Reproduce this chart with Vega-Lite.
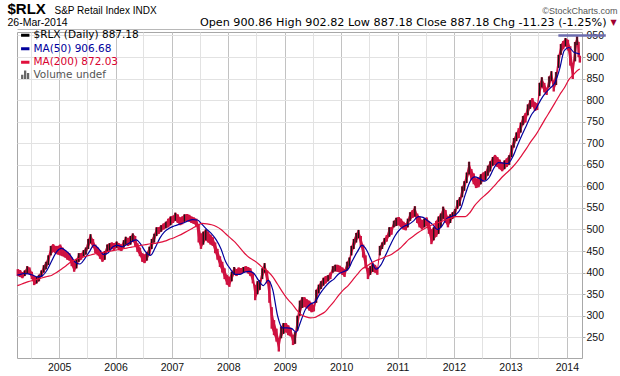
{
 "$schema": "https://vega.github.io/schema/vega-lite/v6.json",
 "width": 565, "height": 326,
 "autosize": {"type": "none"},
 "padding": {"left": 17, "top": 32, "right": 38, "bottom": 18},
 "background": "white",
 "config": {"view": {"stroke": "#a8a8a8", "strokeWidth": 1}, "font": "Liberation Sans"},
 "datasets": {
  "px": [
   {"d":"2004-04-08","lo":392,"hi":408,"u":0},{"d":"2004-04-23","lo":390,"hi":406,"u":0},{"d":"2004-05-08","lo":387,"hi":401,"u":0},{"d":"2004-05-23","lo":392,"hi":405,"u":1},{"d":"2004-06-08","lo":398,"hi":415,"u":1},{"d":"2004-06-23","lo":396,"hi":412,"u":0},{"d":"2004-07-08","lo":385,"hi":402,"u":0},{"d":"2004-07-23","lo":371,"hi":392,"u":0},{"d":"2004-08-08","lo":375,"hi":390,"u":1},{"d":"2004-08-23","lo":380,"hi":395,"u":1},{"d":"2004-09-08","lo":390,"hi":405,"u":1},{"d":"2004-09-23","lo":400,"hi":417,"u":1},{"d":"2004-10-08","lo":408,"hi":425,"u":1},{"d":"2004-10-23","lo":418,"hi":440,"u":1},{"d":"2004-11-08","lo":440,"hi":462,"u":1},{"d":"2004-11-23","lo":448,"hi":466,"u":0},{"d":"2004-12-08","lo":445,"hi":462,"u":0},{"d":"2004-12-23","lo":442,"hi":462,"u":0},
   {"d":"2005-01-08","lo":440,"hi":465,"u":0},{"d":"2005-01-23","lo":438,"hi":458,"u":0},{"d":"2005-02-08","lo":435,"hi":452,"u":0},{"d":"2005-02-23","lo":430,"hi":448,"u":0},{"d":"2005-03-08","lo":428,"hi":445,"u":0},{"d":"2005-03-23","lo":415,"hi":435,"u":0},{"d":"2005-04-08","lo":402,"hi":425,"u":0},{"d":"2005-04-23","lo":410,"hi":432,"u":1},{"d":"2005-05-08","lo":425,"hi":445,"u":1},{"d":"2005-05-23","lo":430,"hi":445,"u":0},{"d":"2005-06-08","lo":438,"hi":452,"u":1},{"d":"2005-06-23","lo":442,"hi":458,"u":1},{"d":"2005-07-08","lo":455,"hi":478,"u":1},{"d":"2005-07-23","lo":468,"hi":489,"u":1},{"d":"2005-08-08","lo":458,"hi":478,"u":0},{"d":"2005-08-23","lo":445,"hi":465,"u":0},{"d":"2005-09-08","lo":440,"hi":458,"u":0},{"d":"2005-09-23","lo":432,"hi":452,"u":0},{"d":"2005-10-08","lo":425,"hi":445,"u":0},{"d":"2005-10-23","lo":430,"hi":450,"u":1},{"d":"2005-11-08","lo":448,"hi":465,"u":1},{"d":"2005-11-23","lo":452,"hi":468,"u":1},{"d":"2005-12-08","lo":455,"hi":470,"u":0},{"d":"2005-12-23","lo":452,"hi":468,"u":0},
   {"d":"2006-01-08","lo":458,"hi":472,"u":1},{"d":"2006-01-23","lo":452,"hi":468,"u":0},{"d":"2006-02-08","lo":450,"hi":465,"u":0},{"d":"2006-02-23","lo":458,"hi":475,"u":1},{"d":"2006-03-08","lo":465,"hi":483,"u":1},{"d":"2006-03-23","lo":462,"hi":480,"u":0},{"d":"2006-04-08","lo":465,"hi":485,"u":1},{"d":"2006-04-23","lo":472,"hi":491,"u":1},{"d":"2006-05-08","lo":462,"hi":485,"u":0},{"d":"2006-05-23","lo":448,"hi":468,"u":0},{"d":"2006-06-08","lo":438,"hi":458,"u":0},{"d":"2006-06-23","lo":425,"hi":445,"u":0},{"d":"2006-07-08","lo":422,"hi":442,"u":0},{"d":"2006-07-23","lo":428,"hi":448,"u":1},{"d":"2006-08-08","lo":440,"hi":460,"u":1},{"d":"2006-08-23","lo":455,"hi":478,"u":1},{"d":"2006-09-08","lo":470,"hi":490,"u":1},{"d":"2006-09-23","lo":485,"hi":505,"u":1},{"d":"2006-10-08","lo":490,"hi":505,"u":0},{"d":"2006-10-23","lo":495,"hi":510,"u":1},{"d":"2006-11-08","lo":500,"hi":514,"u":0},{"d":"2006-11-23","lo":503,"hi":518,"u":1},{"d":"2006-12-08","lo":505,"hi":525,"u":0},{"d":"2006-12-23","lo":510,"hi":530,"u":1},
   {"d":"2007-01-08","lo":515,"hi":532,"u":0},{"d":"2007-01-23","lo":520,"hi":539,"u":1},{"d":"2007-02-08","lo":515,"hi":535,"u":0},{"d":"2007-02-23","lo":510,"hi":528,"u":0},{"d":"2007-03-08","lo":512,"hi":530,"u":0},{"d":"2007-03-23","lo":518,"hi":535,"u":1},{"d":"2007-04-08","lo":520,"hi":536,"u":0},{"d":"2007-04-23","lo":518,"hi":534,"u":0},{"d":"2007-05-08","lo":515,"hi":530,"u":0},{"d":"2007-05-23","lo":513,"hi":528,"u":0},{"d":"2007-06-08","lo":508,"hi":525,"u":0},{"d":"2007-06-23","lo":470,"hi":512,"u":0},{"d":"2007-07-08","lo":455,"hi":490,"u":0},{"d":"2007-07-23","lo":465,"hi":495,"u":1},{"d":"2007-08-08","lo":475,"hi":500,"u":1},{"d":"2007-08-23","lo":470,"hi":495,"u":0},{"d":"2007-09-08","lo":465,"hi":488,"u":0},{"d":"2007-09-23","lo":462,"hi":482,"u":0},{"d":"2007-10-08","lo":445,"hi":470,"u":0},{"d":"2007-10-23","lo":430,"hi":455,"u":0},{"d":"2007-11-08","lo":413,"hi":438,"u":0},{"d":"2007-11-23","lo":400,"hi":425,"u":0},{"d":"2007-12-08","lo":385,"hi":410,"u":0},{"d":"2007-12-23","lo":372,"hi":395,"u":0},
   {"d":"2008-01-08","lo":367,"hi":390,"u":0},{"d":"2008-01-23","lo":380,"hi":402,"u":1},{"d":"2008-02-08","lo":395,"hi":413,"u":1},{"d":"2008-02-23","lo":392,"hi":408,"u":0},{"d":"2008-03-08","lo":395,"hi":412,"u":0},{"d":"2008-03-23","lo":397,"hi":410,"u":0},{"d":"2008-04-08","lo":400,"hi":413,"u":1},{"d":"2008-04-23","lo":402,"hi":415,"u":0},{"d":"2008-05-08","lo":398,"hi":413,"u":0},{"d":"2008-05-23","lo":392,"hi":410,"u":0},{"d":"2008-06-08","lo":375,"hi":400,"u":0},{"d":"2008-06-23","lo":336,"hi":370,"u":0},{"d":"2008-07-08","lo":350,"hi":380,"u":1},{"d":"2008-07-23","lo":360,"hi":383,"u":1},{"d":"2008-08-08","lo":385,"hi":410,"u":1},{"d":"2008-08-23","lo":400,"hi":422,"u":1},{"d":"2008-09-08","lo":375,"hi":405,"u":0},{"d":"2008-09-23","lo":330,"hi":380,"u":0},{"d":"2008-10-08","lo":270,"hi":320,"u":0},{"d":"2008-10-23","lo":255,"hi":290,"u":0},{"d":"2008-11-08","lo":240,"hi":270,"u":0},{"d":"2008-11-23","lo":217,"hi":248,"u":0},{"d":"2008-12-08","lo":248,"hi":275,"u":1},{"d":"2008-12-23","lo":258,"hi":283,"u":1},
   {"d":"2009-01-08","lo":262,"hi":283,"u":0},{"d":"2009-01-23","lo":255,"hi":278,"u":0},{"d":"2009-02-08","lo":252,"hi":272,"u":0},{"d":"2009-02-23","lo":232,"hi":255,"u":0},{"d":"2009-03-08","lo":235,"hi":262,"u":1},{"d":"2009-03-23","lo":265,"hi":300,"u":1},{"d":"2009-04-08","lo":300,"hi":335,"u":1},{"d":"2009-04-23","lo":318,"hi":343,"u":1},{"d":"2009-05-08","lo":320,"hi":343,"u":0},{"d":"2009-05-23","lo":318,"hi":338,"u":0},{"d":"2009-06-08","lo":312,"hi":335,"u":0},{"d":"2009-06-23","lo":308,"hi":330,"u":0},{"d":"2009-07-08","lo":310,"hi":325,"u":0},{"d":"2009-07-23","lo":330,"hi":360,"u":1},{"d":"2009-08-08","lo":352,"hi":372,"u":1},{"d":"2009-08-23","lo":362,"hi":380,"u":1},{"d":"2009-09-08","lo":370,"hi":388,"u":1},{"d":"2009-09-23","lo":375,"hi":392,"u":0},{"d":"2009-10-08","lo":380,"hi":394,"u":1},{"d":"2009-10-23","lo":385,"hi":400,"u":0},{"d":"2009-11-08","lo":400,"hi":415,"u":1},{"d":"2009-11-23","lo":403,"hi":418,"u":1},{"d":"2009-12-08","lo":402,"hi":418,"u":0},{"d":"2009-12-23","lo":400,"hi":416,"u":0},
   {"d":"2010-01-08","lo":395,"hi":412,"u":0},{"d":"2010-01-23","lo":390,"hi":408,"u":0},{"d":"2010-02-08","lo":405,"hi":425,"u":1},{"d":"2010-02-23","lo":415,"hi":435,"u":1},{"d":"2010-03-08","lo":440,"hi":462,"u":1},{"d":"2010-03-23","lo":455,"hi":478,"u":1},{"d":"2010-04-08","lo":470,"hi":492,"u":1},{"d":"2010-04-23","lo":480,"hi":499,"u":1},{"d":"2010-05-08","lo":460,"hi":485,"u":0},{"d":"2010-05-23","lo":435,"hi":465,"u":0},{"d":"2010-06-08","lo":410,"hi":440,"u":0},{"d":"2010-06-23","lo":385,"hi":410,"u":0},{"d":"2010-07-08","lo":395,"hi":415,"u":1},{"d":"2010-07-23","lo":402,"hi":422,"u":1},{"d":"2010-08-08","lo":400,"hi":418,"u":0},{"d":"2010-08-23","lo":395,"hi":412,"u":0},{"d":"2010-09-08","lo":440,"hi":462,"u":1},{"d":"2010-09-23","lo":455,"hi":470,"u":1},{"d":"2010-10-08","lo":465,"hi":480,"u":1},{"d":"2010-10-23","lo":472,"hi":487,"u":0},{"d":"2010-11-08","lo":483,"hi":505,"u":1},{"d":"2010-11-23","lo":488,"hi":505,"u":0},{"d":"2010-12-08","lo":505,"hi":520,"u":1},{"d":"2010-12-23","lo":508,"hi":527,"u":1},
   {"d":"2011-01-08","lo":510,"hi":529,"u":0},{"d":"2011-01-23","lo":505,"hi":525,"u":0},{"d":"2011-02-08","lo":500,"hi":518,"u":0},{"d":"2011-02-23","lo":498,"hi":514,"u":0},{"d":"2011-03-08","lo":505,"hi":525,"u":1},{"d":"2011-03-23","lo":520,"hi":540,"u":1},{"d":"2011-04-08","lo":527,"hi":545,"u":0},{"d":"2011-04-23","lo":530,"hi":554,"u":1},{"d":"2011-05-08","lo":515,"hi":537,"u":0},{"d":"2011-05-23","lo":505,"hi":530,"u":0},{"d":"2011-06-08","lo":500,"hi":522,"u":0},{"d":"2011-06-23","lo":505,"hi":525,"u":1},{"d":"2011-07-08","lo":508,"hi":528,"u":0},{"d":"2011-07-23","lo":490,"hi":520,"u":0},{"d":"2011-08-08","lo":466,"hi":500,"u":0},{"d":"2011-08-23","lo":475,"hi":505,"u":1},{"d":"2011-09-08","lo":483,"hi":520,"u":0},{"d":"2011-09-23","lo":490,"hi":530,"u":1},{"d":"2011-10-08","lo":505,"hi":537,"u":1},{"d":"2011-10-23","lo":525,"hi":553,"u":1},{"d":"2011-11-08","lo":515,"hi":545,"u":0},{"d":"2011-11-23","lo":505,"hi":530,"u":0},{"d":"2011-12-08","lo":515,"hi":535,"u":1},{"d":"2011-12-23","lo":525,"hi":540,"u":1},
   {"d":"2012-01-08","lo":530,"hi":548,"u":1},{"d":"2012-01-23","lo":548,"hi":568,"u":1},{"d":"2012-02-08","lo":555,"hi":575,"u":1},{"d":"2012-02-23","lo":575,"hi":600,"u":1},{"d":"2012-03-08","lo":590,"hi":612,"u":1},{"d":"2012-03-23","lo":608,"hi":632,"u":1},{"d":"2012-04-08","lo":628,"hi":657,"u":1},{"d":"2012-04-23","lo":615,"hi":640,"u":0},{"d":"2012-05-08","lo":605,"hi":630,"u":0},{"d":"2012-05-23","lo":596,"hi":618,"u":0},{"d":"2012-06-08","lo":598,"hi":620,"u":0},{"d":"2012-06-23","lo":605,"hi":628,"u":1},{"d":"2012-07-08","lo":612,"hi":632,"u":0},{"d":"2012-07-23","lo":615,"hi":635,"u":1},{"d":"2012-08-08","lo":625,"hi":648,"u":1},{"d":"2012-08-23","lo":635,"hi":658,"u":1},{"d":"2012-09-08","lo":648,"hi":668,"u":1},{"d":"2012-09-23","lo":650,"hi":673,"u":0},{"d":"2012-10-08","lo":645,"hi":668,"u":0},{"d":"2012-10-23","lo":640,"hi":662,"u":0},{"d":"2012-11-08","lo":635,"hi":655,"u":0},{"d":"2012-11-23","lo":640,"hi":660,"u":1},{"d":"2012-12-08","lo":645,"hi":665,"u":0},{"d":"2012-12-23","lo":650,"hi":672,"u":1},
   {"d":"2013-01-08","lo":668,"hi":695,"u":1},{"d":"2013-01-23","lo":690,"hi":712,"u":1},{"d":"2013-02-08","lo":705,"hi":725,"u":1},{"d":"2013-02-23","lo":712,"hi":735,"u":0},{"d":"2013-03-08","lo":725,"hi":748,"u":1},{"d":"2013-03-23","lo":742,"hi":763,"u":1},{"d":"2013-04-08","lo":748,"hi":770,"u":0},{"d":"2013-04-23","lo":765,"hi":790,"u":1},{"d":"2013-05-08","lo":780,"hi":800,"u":1},{"d":"2013-05-23","lo":785,"hi":805,"u":0},{"d":"2013-06-08","lo":775,"hi":795,"u":0},{"d":"2013-06-23","lo":777,"hi":792,"u":0},{"d":"2013-07-08","lo":810,"hi":840,"u":1},{"d":"2013-07-23","lo":830,"hi":853,"u":1},{"d":"2013-08-08","lo":818,"hi":840,"u":0},{"d":"2013-08-23","lo":812,"hi":828,"u":0},{"d":"2013-09-08","lo":830,"hi":855,"u":1},{"d":"2013-09-23","lo":845,"hi":867,"u":1},{"d":"2013-10-08","lo":820,"hi":845,"u":0},{"d":"2013-10-23","lo":835,"hi":865,"u":1},{"d":"2013-11-08","lo":875,"hi":905,"u":1},{"d":"2013-11-23","lo":905,"hi":930,"u":1},{"d":"2013-12-08","lo":918,"hi":937,"u":0},{"d":"2013-12-23","lo":925,"hi":944,"u":1},
   {"d":"2014-01-08","lo":915,"hi":940,"u":0},{"d":"2014-01-23","lo":880,"hi":925,"u":0},{"d":"2014-02-08","lo":849,"hi":885,"u":0},{"d":"2014-02-23","lo":890,"hi":935,"u":1},{"d":"2014-03-08","lo":928,"hi":948,"u":1},{"d":"2014-03-18","lo":900,"hi":935,"u":0},{"d":"2014-03-26","lo":887,"hi":903,"u":0}
  ],
  "ma": [
   {"d":"2004-04-05","a":395,"b":370},{"d":"2004-04-15","a":395,"b":371},{"d":"2004-05-15","a":398,"b":375},{"d":"2004-06-15","a":397,"b":379},{"d":"2004-07-15","a":394,"b":382},{"d":"2004-08-15","a":390,"b":385},{"d":"2004-09-15","a":393,"b":388},{"d":"2004-10-15","a":406,"b":391},{"d":"2004-11-15","a":428,"b":394},{"d":"2004-12-15","a":448,"b":400},
   {"d":"2005-01-15","a":456,"b":408},{"d":"2005-02-15","a":450,"b":416},{"d":"2005-03-15","a":440,"b":424},{"d":"2005-04-15","a":424,"b":430},{"d":"2005-05-15","a":420,"b":434},{"d":"2005-06-15","a":432,"b":437},{"d":"2005-07-15","a":448,"b":440},{"d":"2005-08-15","a":464,"b":443},{"d":"2005-09-15","a":455,"b":445},{"d":"2005-10-15","a":442,"b":447},{"d":"2005-11-15","a":446,"b":449},{"d":"2005-12-15","a":460,"b":451},
   {"d":"2006-01-15","a":463,"b":453},{"d":"2006-02-15","a":460,"b":455},{"d":"2006-03-15","a":465,"b":457},{"d":"2006-04-15","a":472,"b":459},{"d":"2006-05-15","a":476,"b":461},{"d":"2006-06-15","a":465,"b":463},{"d":"2006-07-15","a":448,"b":465},{"d":"2006-08-15","a":440,"b":467},{"d":"2006-09-15","a":458,"b":468},{"d":"2006-10-15","a":480,"b":470},{"d":"2006-11-15","a":495,"b":473},{"d":"2006-12-15","a":503,"b":477},
   {"d":"2007-01-15","a":508,"b":481},{"d":"2007-02-15","a":512,"b":486},{"d":"2007-03-15","a":515,"b":491},{"d":"2007-04-15","a":520,"b":497},{"d":"2007-05-15","a":523,"b":503},{"d":"2007-06-15","a":522,"b":509},{"d":"2007-07-15","a":512,"b":514},{"d":"2007-08-15","a":500,"b":513},{"d":"2007-09-15","a":490,"b":511},{"d":"2007-10-15","a":476,"b":507},{"d":"2007-11-15","a":455,"b":500},{"d":"2007-12-15","a":425,"b":490},
   {"d":"2008-01-15","a":408,"b":480},{"d":"2008-02-15","a":396,"b":470},{"d":"2008-03-15","a":396,"b":458},{"d":"2008-04-15","a":401,"b":445},{"d":"2008-05-15","a":403,"b":435},{"d":"2008-06-15","a":398,"b":428},{"d":"2008-07-15","a":382,"b":420},{"d":"2008-08-15","a":370,"b":410},{"d":"2008-09-15","a":382,"b":402},{"d":"2008-10-15","a":360,"b":390},{"d":"2008-11-15","a":300,"b":373},{"d":"2008-12-15","a":272,"b":356},
   {"d":"2009-01-15","a":272,"b":340},{"d":"2009-02-15","a":270,"b":328},{"d":"2009-03-15","a":262,"b":315},{"d":"2009-04-15","a":288,"b":303},{"d":"2009-05-15","a":315,"b":298},{"d":"2009-06-15","a":327,"b":295},{"d":"2009-07-15","a":332,"b":296},{"d":"2009-08-15","a":350,"b":302},{"d":"2009-09-15","a":365,"b":308},{"d":"2009-10-15","a":377,"b":320},{"d":"2009-11-15","a":385,"b":333},{"d":"2009-12-15","a":397,"b":347},
   {"d":"2010-01-15","a":402,"b":360},{"d":"2010-02-15","a":408,"b":370},{"d":"2010-03-15","a":428,"b":382},{"d":"2010-04-15","a":448,"b":396},{"d":"2010-05-15","a":463,"b":408},{"d":"2010-06-15","a":452,"b":415},{"d":"2010-07-15","a":428,"b":422},{"d":"2010-08-15","a":408,"b":428},{"d":"2010-09-15","a":418,"b":432},{"d":"2010-10-15","a":440,"b":437},{"d":"2010-11-15","a":464,"b":441},{"d":"2010-12-15","a":485,"b":448},
   {"d":"2011-01-15","a":500,"b":456},{"d":"2011-02-15","a":508,"b":467},{"d":"2011-03-15","a":512,"b":477},{"d":"2011-04-15","a":520,"b":485},{"d":"2011-05-15","a":530,"b":493},{"d":"2011-06-15","a":528,"b":500},{"d":"2011-07-15","a":520,"b":506},{"d":"2011-08-15","a":512,"b":511},{"d":"2011-09-15","a":500,"b":515},{"d":"2011-10-15","a":508,"b":519},{"d":"2011-11-15","a":525,"b":523},{"d":"2011-12-15","a":530,"b":527},
   {"d":"2012-01-15","a":535,"b":530},{"d":"2012-02-15","a":550,"b":530},{"d":"2012-03-15","a":582,"b":530},{"d":"2012-04-15","a":612,"b":540},{"d":"2012-05-15","a":622,"b":556},{"d":"2012-06-15","a":618,"b":568},{"d":"2012-07-15","a":612,"b":578},{"d":"2012-08-15","a":620,"b":588},{"d":"2012-09-15","a":642,"b":600},{"d":"2012-10-15","a":655,"b":612},{"d":"2012-11-15","a":654,"b":624},{"d":"2012-12-15","a":653,"b":634},
   {"d":"2013-01-15","a":668,"b":645},{"d":"2013-02-15","a":695,"b":658},{"d":"2013-03-15","a":718,"b":672},{"d":"2013-04-15","a":742,"b":688},{"d":"2013-05-15","a":765,"b":705},{"d":"2013-06-15","a":780,"b":720},{"d":"2013-07-15","a":800,"b":738},{"d":"2013-08-15","a":816,"b":757},{"d":"2013-09-15","a":828,"b":775},{"d":"2013-10-15","a":840,"b":793},{"d":"2013-11-15","a":872,"b":812},{"d":"2013-12-15","a":915,"b":828},
   {"d":"2014-01-15","a":922,"b":848},{"d":"2014-02-15","a":911,"b":860},{"d":"2014-03-15","a":908,"b":870},{"d":"2014-03-26","a":906.68,"b":872.03}
  ],
  "lvl": [{"d":"2013-11-07","e":"2014-09-10","v":950}]
 },
 "resolve": {"axis": {"x": "independent", "y": "independent"}},
 "layer": [
  {
   "data": {"name": "px"},
   "mark": {"type": "area", "color": "#cf1241", "interpolate": "linear"},
   "encoding": {
    "x": {"field": "d", "type": "temporal",
     "scale": {"domain": [{"year":2004,"month":4,"date":3},{"year":2014,"month":4,"date":9}]},
     "axis": {"orient": "bottom",
      "values": [{"year":2004,"month":7,"date":1},{"year":2005,"month":1,"date":1},{"year":2005,"month":7,"date":1},{"year":2006,"month":1,"date":1},{"year":2006,"month":7,"date":1},{"year":2007,"month":1,"date":1},{"year":2007,"month":7,"date":1},{"year":2008,"month":1,"date":1},{"year":2008,"month":7,"date":1},{"year":2009,"month":1,"date":1},{"year":2009,"month":7,"date":1},{"year":2010,"month":1,"date":1},{"year":2010,"month":7,"date":1},{"year":2011,"month":1,"date":1},{"year":2011,"month":7,"date":1},{"year":2012,"month":1,"date":1},{"year":2012,"month":7,"date":1},{"year":2013,"month":1,"date":1},{"year":2013,"month":7,"date":1},{"year":2014,"month":1,"date":1}],
      "labelExpr": "month(datum.value) == 0 ? timeFormat(datum.value, '%Y') : ''",
      "grid": true,
      "gridColor": {"condition": {"test": "month(datum.value) == 0", "value": "#c2c2c2"}, "value": "#e2e2e2"},
      "ticks": false, "domain": false,
      "labelFont": "Liberation Sans", "labelFontSize": 10.5, "labelColor": "#111111", "labelPadding": 4, "labelFlush": false, "labelOverlap": false,
      "title": "$RLX", "titleFont": "Liberation Sans", "titleFontSize": 15, "titleFontWeight": "bold", "titleColor": "#000000",
      "titleAngle": 0, "titleAlign": "left", "titleBaseline": "alphabetic", "titleX": -10, "titleY": -345}},
    "y": {"field": "lo", "type": "quantitative",
     "scale": {"domain": [202, 958], "nice": false, "zero": false},
     "axis": {"orient": "right", "values": [250,300,350,400,450,500,550,600,650,700,750,800,850,900,950],
      "grid": true, "gridColor": "#e2e2e2", "ticks": true, "tickSize": 3, "tickColor": "#aaaaaa", "domain": false,
      "labelFont": "Liberation Sans", "labelFontSize": 10.5, "labelColor": "#111111", "labelPadding": 1,
      "title": "©StockCharts.com", "titleFont": "Liberation Sans", "titleFontSize": 9, "titleFontWeight": "normal", "titleColor": "#555555",
      "titleAngle": 0, "titleAlign": "right", "titleBaseline": "alphabetic", "titleX": 35, "titleY": -19}},
    "y2": {"field": "hi"}
   }
  },
  {
   "data": {"name": "px"},
   "mark": {"type": "rule", "strokeWidth": 2.4, "color": "#cf1241"},
   "encoding": {
    "x": {"field": "d", "type": "temporal", "scale": {"domain": [{"year":2004,"month":4,"date":3},{"year":2014,"month":4,"date":9}]}, "axis": null},
    "y": {"field": "lo", "type": "quantitative", "scale": {"domain": [202, 958], "nice": false, "zero": false}, "axis": null},
    "y2": {"field": "hi"}
   }
  },
  {
   "data": {"name": "px"},
   "transform": [{"filter": "datum.u == 1"}],
   "mark": {"type": "rule", "strokeWidth": 1.3, "color": "#151515"},
   "encoding": {
    "x": {"field": "d", "type": "temporal", "scale": {"domain": [{"year":2004,"month":4,"date":3},{"year":2014,"month":4,"date":9}]}, "axis": null},
    "y": {"field": "lo", "type": "quantitative", "scale": {"domain": [202, 958], "nice": false, "zero": false}, "axis": null},
    "y2": {"field": "hi"}
   }
  },
  {
   "data": {"name": "ma"},
   "mark": {"type": "line", "strokeWidth": 1.2, "interpolate": "monotone"},
   "encoding": {
    "x": {"field": "d", "type": "temporal",
     "scale": {"domain": [{"year":2004,"month":4,"date":3},{"year":2014,"month":4,"date":9}]},
     "axis": {"orient": "top", "labels": false, "ticks": false, "domain": false, "grid": false,
      "title": "S&P Retail Index  INDX", "titleFont": "Liberation Sans", "titleFontSize": 10, "titleFontWeight": "normal", "titleColor": "#000000",
      "titleAngle": 0, "titleAlign": "left", "titleBaseline": "alphabetic", "titleX": 37, "titleY": -19}},
    "y": {"field": "a", "type": "quantitative",
     "scale": {"domain": [202, 958], "nice": false, "zero": false},
     "axis": {"orient": "left", "labels": false, "ticks": false, "domain": false, "grid": false,
      "title": "Open 900.86 High 902.82 Low 887.18 Close 887.18 Chg -11.23 (-1.25%)", "titleFont": "DejaVu Sans", "titleFontSize": 11.2, "titleFontWeight": "normal", "titleColor": "#000000",
      "titleAngle": 0, "titleAlign": "right", "titleBaseline": "alphabetic", "titleX": 589, "titleY": -7}},
    "color": {"datum": "MA(50) 906.68", "type": "nominal",
     "scale": {"domain": ["$RLX (Daily) 887.18", "MA(50) 906.68", "MA(200) 872.03", "Volume undef"], "range": ["#000000", "#00009c", "#e0103c", "#666666"]},
     "legend": {"orient": "none", "legendX": 3, "legendY": -2, "title": null, "symbolType": "stroke", "symbolSize": 70, "symbolStrokeWidth": 3,
      "labelFont": "DejaVu Sans", "labelFontSize": 10.5, "labelOffset": 3, "rowPadding": 0.5, "padding": 0, "labelLimit": 300,
      "encode": {
       "labels": {"update": {"fill": {"signal": "datum.value === 'MA(50) 906.68' ? '#00009c' : datum.value === 'MA(200) 872.03' ? '#d8002f' : datum.value === 'Volume undef' ? '#555555' : '#000000'"}}},
       "symbols": {"update": {
        "shape": {"signal": "datum.value === 'Volume undef' ? 'M-1,1V0H-0.45V1ZM-0.3,1V-1H0.25V1ZM0.4,1V-0.4H0.95V1Z' : 'stroke'"},
        "fill": {"signal": "datum.value === 'Volume undef' ? '#666666' : 'transparent'"},
        "strokeWidth": {"signal": "datum.value === 'Volume undef' ? 0 : 3"}}}
      }}}
   }
  },
  {
   "data": {"name": "ma"},
   "mark": {"type": "line", "strokeWidth": 1.2, "interpolate": "monotone"},
   "encoding": {
    "x": {"field": "d", "type": "temporal",
     "scale": {"domain": [{"year":2004,"month":4,"date":3},{"year":2014,"month":4,"date":9}]},
     "axis": {"orient": "top", "labels": false, "ticks": false, "domain": true, "domainColor": "#b8b8b8", "offset": 3, "grid": false,
      "title": "26-Mar-2014", "titleFont": "Liberation Sans", "titleFontSize": 10.5, "titleFontWeight": "normal", "titleColor": "#000000",
      "titleAngle": 0, "titleAlign": "left", "titleBaseline": "alphabetic", "titleX": -10, "titleY": -4}},
    "y": {"field": "b", "type": "quantitative",
     "scale": {"domain": [202, 958], "nice": false, "zero": false},
     "axis": {"orient": "left", "labels": false, "ticks": false, "domain": false, "grid": false,
      "title": "▼", "titleFont": "DejaVu Sans", "titleFontSize": 8, "titleFontWeight": "normal", "titleColor": "#a00030",
      "titleAngle": 0, "titleAlign": "center", "titleBaseline": "alphabetic", "titleX": 596, "titleY": -8}},
    "color": {"datum": "MA(200) 872.03", "type": "nominal",
     "scale": {"domain": ["$RLX (Daily) 887.18", "MA(50) 906.68", "MA(200) 872.03", "Volume undef"], "range": ["#000000", "#00009c", "#e0103c", "#666666"]},
     "legend": {"orient": "none", "legendX": 3, "legendY": -2, "title": null, "symbolType": "stroke", "symbolSize": 70, "symbolStrokeWidth": 3,
      "labelFont": "DejaVu Sans", "labelFontSize": 10.5, "labelOffset": 3, "rowPadding": 0.5, "padding": 0, "labelLimit": 300,
      "encode": {
       "labels": {"update": {"fill": {"signal": "datum.value === 'MA(50) 906.68' ? '#00009c' : datum.value === 'MA(200) 872.03' ? '#d8002f' : datum.value === 'Volume undef' ? '#555555' : '#000000'"}}},
       "symbols": {"update": {
        "shape": {"signal": "datum.value === 'Volume undef' ? 'M-1,1V0H-0.45V1ZM-0.3,1V-1H0.25V1ZM0.4,1V-0.4H0.95V1Z' : 'stroke'"},
        "fill": {"signal": "datum.value === 'Volume undef' ? '#666666' : 'transparent'"},
        "strokeWidth": {"signal": "datum.value === 'Volume undef' ? 0 : 3"}}}
      }}}
   }
  },
  {
   "data": {"name": "lvl"},
   "mark": {"type": "rule", "strokeWidth": 2.5, "color": "#6c6cae", "clip": false},
   "encoding": {
    "x": {"field": "d", "type": "temporal", "scale": {"domain": [{"year":2004,"month":4,"date":3},{"year":2014,"month":4,"date":9}]}, "axis": null},
    "x2": {"field": "e"},
    "y": {"field": "v", "type": "quantitative", "scale": {"domain": [202, 958], "nice": false, "zero": false}, "axis": null}
   }
  }
 ]
}
